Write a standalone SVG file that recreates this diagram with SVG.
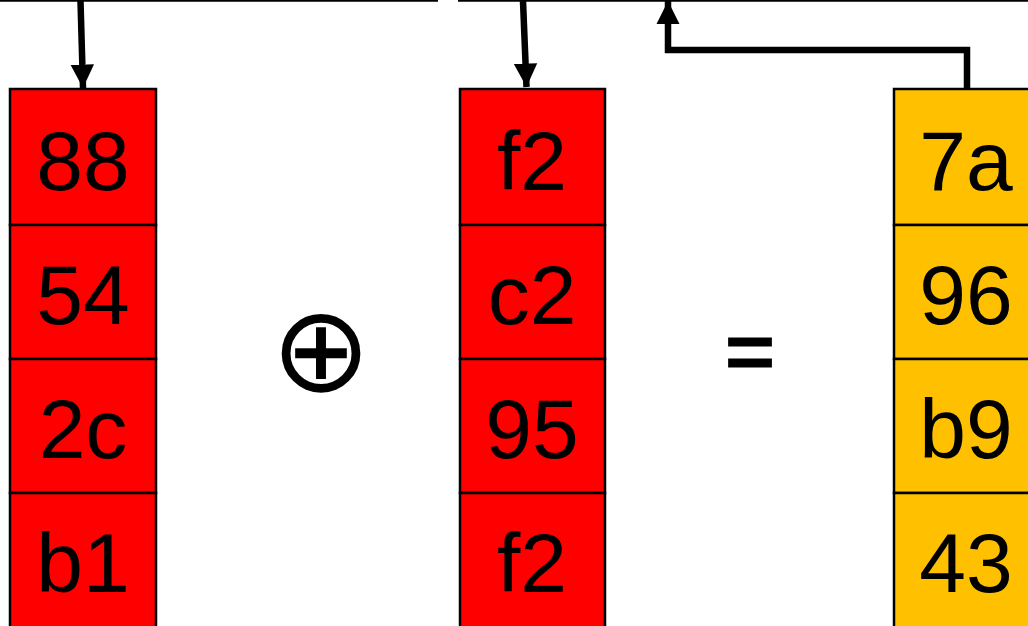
<svg xmlns="http://www.w3.org/2000/svg" width="1028" height="626" viewBox="0 0 1028 626">
<defs>
<style>
.red{fill:#ff0000;stroke:#000;stroke-width:2.5}
.yel{fill:#ffc000;stroke:#000;stroke-width:2.5}
.t{font-family:"Liberation Sans",Arial,sans-serif;font-size:84px;fill:#000;text-anchor:middle}
.op{font-family:"DejaVu Sans",sans-serif;fill:#000;text-anchor:middle}
.conn{fill:none;stroke:#000;stroke-width:6.5}
</style>
<marker id="ah" viewBox="0 0 10 10" refX="10" refY="5" markerWidth="3.6" markerHeight="3.8" markerUnits="strokeWidth" orient="auto">
<path d="M0,0 L10,5 L0,10 Z" fill="#000"/>
</marker>
</defs>
<rect width="1028" height="626" fill="#fff"/>
<g id="top-lines">
<line x1="0" y1="0.5" x2="438" y2="0.5" stroke="#000" stroke-width="2.5"/>
<line x1="458" y1="0.5" x2="1028" y2="0.5" stroke="#000" stroke-width="2.5"/>
</g>
<g id="col-a">
<rect class="red" x="10" y="89" width="146" height="136"/>
<rect class="red" x="10" y="225" width="146" height="134"/>
<rect class="red" x="10" y="359" width="146" height="134"/>
<rect class="red" x="10" y="493" width="146" height="136"/>
<text class="t" x="83" y="190">88</text>
<text class="t" x="83" y="324">54</text>
<text class="t" x="83" y="458">2c</text>
<text class="t" x="83" y="592">b1</text>
</g>
<g id="col-b">
<rect class="red" x="460" y="89" width="145" height="136"/>
<rect class="red" x="460" y="225" width="145" height="134"/>
<rect class="red" x="460" y="359" width="145" height="134"/>
<rect class="red" x="460" y="493" width="145" height="136"/>
<text class="t" x="532" y="190">f2</text>
<text class="t" x="532" y="324">c2</text>
<text class="t" x="532" y="458">95</text>
<text class="t" x="532" y="592">f2</text>
</g>
<g id="col-c">
<rect class="yel" x="894" y="89" width="146" height="136"/>
<rect class="yel" x="894" y="225" width="146" height="134"/>
<rect class="yel" x="894" y="359" width="146" height="134"/>
<rect class="yel" x="894" y="493" width="146" height="136"/>
<text class="t" x="966" y="190">7a</text>
<text class="t" x="966" y="324">96</text>
<text class="t" x="966" y="458">b9</text>
<text class="t" x="966" y="592">43</text>
</g>
<g id="xor">
<text class="op" x="321" y="391" font-size="120">⊕</text>
</g>
<g id="equals">
<text class="t" x="750" y="380" stroke="#000" stroke-width="3">=</text>
</g>
<g id="connectors">
<path class="conn" d="M80.5,1 L83,88" marker-end="url(#ah)"/>
<path class="conn" d="M523,1 L526.5,87" marker-end="url(#ah)"/>
<path class="conn" d="M967,89 L967,50 L668,50 L668,1" marker-end="url(#ah)"/>
</g>
</svg>
